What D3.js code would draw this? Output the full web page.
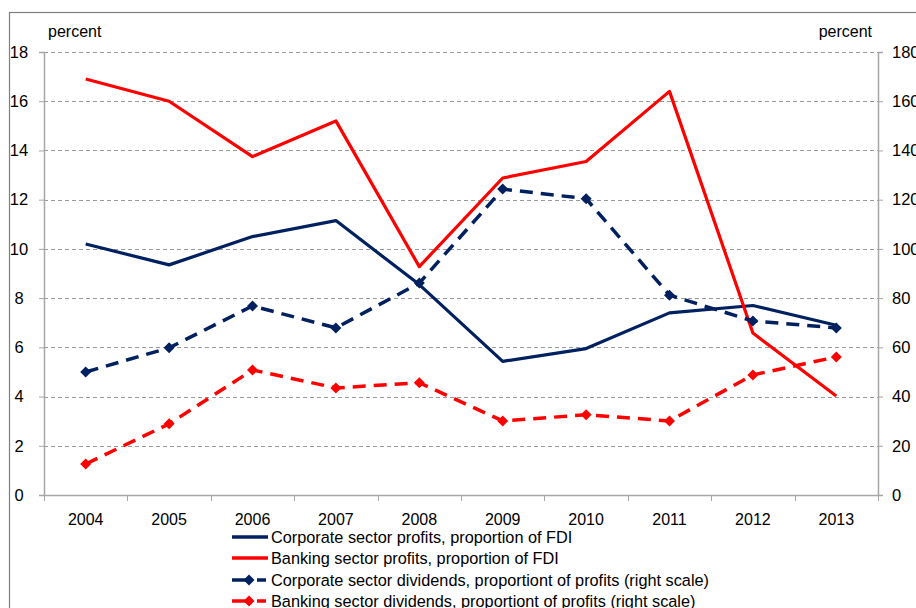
<!DOCTYPE html>
<html><head><meta charset="utf-8">
<script src="https://cdn.jsdelivr.net/npm/d3@7/dist/d3.min.js"></script>
<style>
body{margin:0;background:#fff;}
svg{display:block;font-family:"Liberation Sans",Arial,sans-serif;}
</style></head>
<body><svg id="c" width="916" height="608"></svg>
<script>
const years = ["2004","2005","2006","2007","2008","2009","2010","2011","2012","2013"];
const corpProfits = [10.2, 9.35, 10.5, 11.15, 8.55, 5.43, 5.95, 7.4, 7.7, 6.9];
const bankProfits = [16.9, 16.0, 13.75, 15.2, 9.28, 12.88, 13.55, 16.4, 6.58, 4.02];
const corpDividends = [50, 59.8, 76.8, 67.9, 86.1, 124.3, 120.4, 81.2, 70.7, 67.9];
const bankDividends = [12.6, 28.9, 50.8, 43.5, 45.6, 30.1, 32.6, 30.1, 48.8, 56.1];
const leftTicks = [0,2,4,6,8,10,12,14,16,18];
const rightTicks = [0,20,40,60,80,100,120,140,160,180];
const seriesNames = ["Corporate sector profits, proportion of FDI",
  "Banking sector profits, proportion of FDI",
  "Corporate sector dividends, proportiont of profits (right scale)",
  "Banking sector dividends, proportiont of profits (right scale)"];

const NAVY = "#002060", RED = "#ff0000";
const svg = d3.select("#c");
const L = 44, R = 878, T = 52, B = 495;

// outer frame (partially visible)
svg.append("rect").attr("x",9.5).attr("y",12.5).attr("width",1000).attr("height",1000)
  .attr("fill","none").attr("stroke","#7f7f7f").attr("stroke-width",1.2);

const x = d3.scaleBand().domain(years).range([L, R]);
const yL = d3.scaleLinear().domain([0,18]).range([B, T]);
const yR = d3.scaleLinear().domain([0,180]).range([B, T]);
const cx = d => x(d) + x.bandwidth()/2;

// gridlines
svg.append("g").selectAll("line").data(leftTicks.filter(t=>t>0)).join("line")
  .attr("x1",L).attr("x2",R).attr("y1",d=>Math.round(yL(d))+0.5).attr("y2",d=>Math.round(yL(d))+0.5)
  .attr("stroke","#9a9a9a").attr("stroke-width",1).attr("stroke-dasharray","4,3");

const axisColor = "#a6a6a6";
const FONT = "'Liberation Sans',Arial,sans-serif";
// left axis
const gl = svg.append("g").attr("transform",`translate(${L},0)`)
  .call(d3.axisLeft(yL).tickValues(leftTicks).tickSize(5).tickFormat(d3.format("d")));
gl.select(".domain").attr("stroke",axisColor).attr("stroke-width",1.5);
gl.selectAll(".tick line").attr("stroke",axisColor);
gl.selectAll(".tick text").attr("x",-25).attr("text-anchor","middle").attr("font-size",16.5)
  .attr("fill","#000").attr("font-family",FONT);

// right axis
const gr = svg.append("g").attr("transform",`translate(${R},0)`)
  .call(d3.axisRight(yR).tickValues(rightTicks).tickSize(5).tickFormat(d3.format("d")));
gr.select(".domain").attr("stroke",axisColor).attr("stroke-width",1.5);
gr.selectAll(".tick line").attr("stroke",axisColor);
gr.selectAll(".tick text").attr("x",14).attr("text-anchor","start").attr("font-size",16.5)
  .attr("fill","#000").attr("font-family",FONT);

// bottom axis
const gb = svg.append("g").attr("transform",`translate(0,${B})`)
  .call(d3.axisBottom(x).tickSize(0).tickPadding(19));
gb.select(".domain").attr("stroke",axisColor).attr("stroke-width",1.5);
gb.selectAll(".tick text").attr("font-size",16).attr("fill","#000").attr("font-family",FONT);
gb.append("g").selectAll("line").data(years.map(d=>x(d)).concat([x.range()[1]])).join("line")
  .attr("x1",d=>Math.round(d)+0.5).attr("x2",d=>Math.round(d)+0.5).attr("y1",0).attr("y2",6)
  .attr("stroke",axisColor).attr("stroke-width",1);

// axis titles
svg.append("text").attr("x",48).attr("y",37).attr("font-size",16).text("percent");
svg.append("text").attr("x",872).attr("y",37).attr("font-size",16).attr("text-anchor","end").text("percent");

const series = [
  {vals: corpProfits, y: yL, color: NAVY, dash: null, marker: false},
  {vals: bankProfits, y: yL, color: RED, dash: null, marker: false},
  {vals: corpDividends, y: yR, color: NAVY, dash: "13,8", marker: true},
  {vals: bankDividends, y: yR, color: RED, dash: "13,8", marker: true}
];
const diamondPath = "M0,-5.5L5.5,0L0,5.5L-5.5,0Z";

series.forEach((s, i) => {
  const line = d3.line().x((d,j)=>cx(years[j])).y(d=>s.y(d));
  svg.append("path").datum(s.vals).attr("d", line).attr("fill","none")
    .attr("stroke", s.color).attr("stroke-width", s.marker ? 3.5 : 3.2)
    .attr("stroke-linejoin","round")
    .attr("stroke-dasharray", s.dash);
  if (s.marker) {
    svg.append("g").selectAll("path").data(s.vals).join("path")
      .attr("d", diamondPath).attr("fill", s.color)
      .attr("transform",(d,j)=>`translate(${cx(years[j])},${s.y(d)})`);
  }
});

// legend
const lg = svg.append("g");
const rowY = [537, 558, 580, 601];
series.forEach((s, i) => {
  const g = lg.append("g").attr("transform",`translate(0,${rowY[i]})`);
  if (!s.marker) {
    g.append("line").attr("x1",232).attr("x2",268).attr("y1",0).attr("y2",0)
      .attr("stroke",s.color).attr("stroke-width",3.5);
  } else {
    g.append("line").attr("x1",232).attr("x2",246).attr("y1",0).attr("y2",0)
      .attr("stroke",s.color).attr("stroke-width",3.5);
    g.append("line").attr("x1",257).attr("x2",266).attr("y1",0).attr("y2",0)
      .attr("stroke",s.color).attr("stroke-width",3.5);
    g.append("path").attr("d",diamondPath).attr("fill",s.color).attr("transform","translate(249,0)");
  }
  g.append("text").attr("x",271).attr("y",5.5).attr("font-size",16.3).text(seriesNames[i]);
});
</script></body></html>
